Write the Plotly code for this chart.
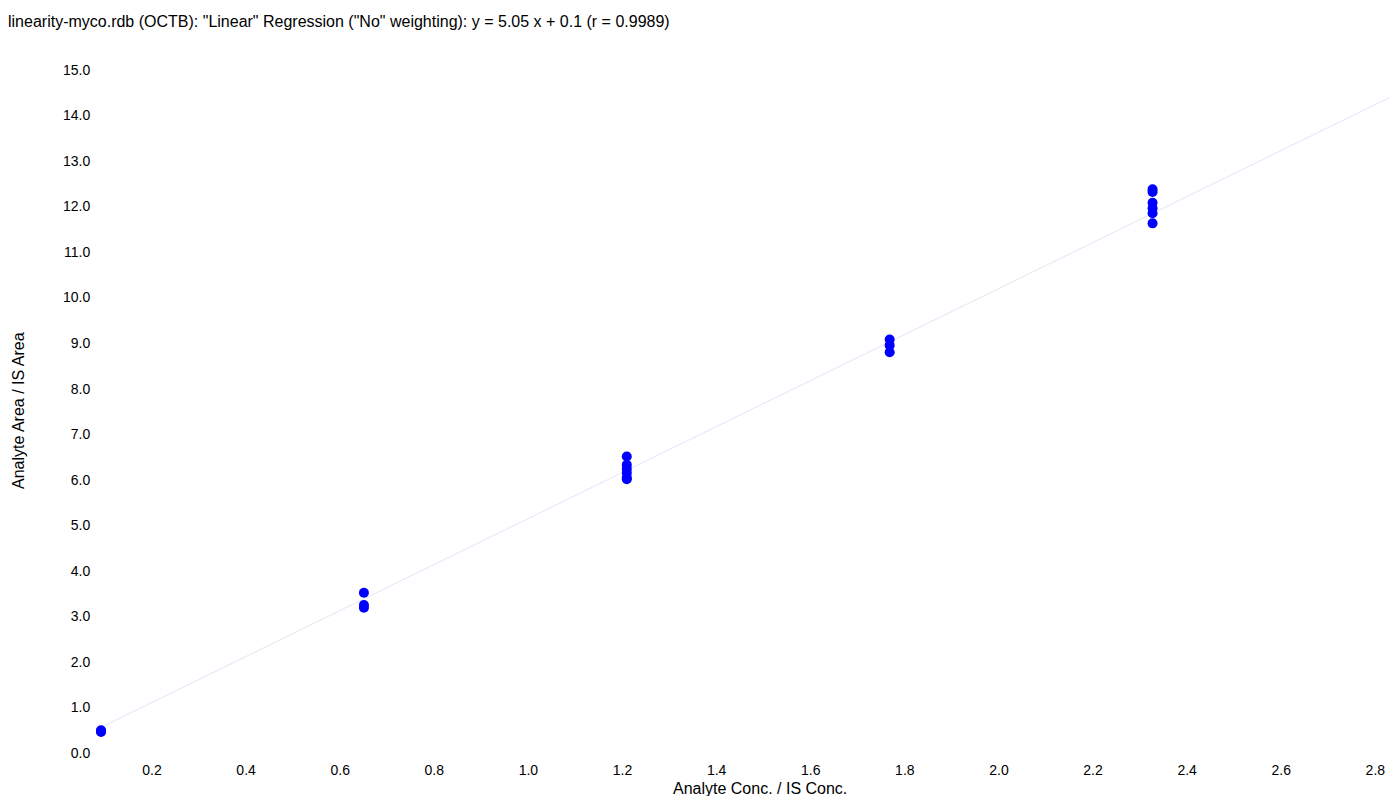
import plotly.graph_objects as go

# Calibration standards: concentration ratio levels and measured area ratios
conc_levels = [0.0917, 0.6504, 1.2091, 1.7678, 2.3265]
area_ratios = [
    [0.46, 0.48, 0.50],
    [3.52, 3.25, 3.19],
    [6.51, 6.33, 6.24, 6.15, 6.05, 6.01],
    [9.08, 8.95, 8.80],
    [12.38, 12.32, 12.08, 11.96, 11.85, 11.63],
]

slope = 5.05
intercept = 0.1
r_value = 0.9989

x_range = [0.081, 2.829]
y_range = [0, 15.48]
x_ticks = [0.2, 0.4, 0.6, 0.8, 1.0, 1.2, 1.4, 1.6, 1.8, 2.0, 2.2, 2.4, 2.6, 2.8]
y_ticks = [float(v) for v in range(0, 16)]

xs, ys = [], []
for c, vals in zip(conc_levels, area_ratios):
    for v in vals:
        xs.append(c)
        ys.append(v)

line_x = [conc_levels[0], x_range[1]]
line_y = [slope * v + intercept for v in line_x]

font_family = "Liberation Sans, Arial, sans-serif"

fig = go.Figure()
fig.add_trace(go.Scatter(
    x=line_x, y=line_y, mode="lines",
    line=dict(color="#e4e4fa", width=1),
    hoverinfo="skip", showlegend=False,
))
fig.add_trace(go.Scatter(
    x=xs, y=ys, mode="markers",
    marker=dict(color="#0000ff", size=10, line=dict(width=0)),
    showlegend=False,
))

fig.update_layout(
    width=1389, height=796,
    margin=dict(l=96, r=0, t=48, b=43),
    paper_bgcolor="white", plot_bgcolor="white",
    font=dict(family=font_family, size=14, color="#000000"),
    xaxis=dict(
        range=x_range, tickvals=x_ticks,
        ticktext=[f"{v:.1f}" for v in x_ticks],
        showgrid=False, zeroline=False, showline=False,
        ticks="outside", ticklen=4, tickcolor="white",
    ),
    yaxis=dict(
        range=y_range, tickvals=y_ticks,
        ticktext=[f"{v:.1f}" for v in y_ticks],
        showgrid=False, zeroline=False, showline=False,
        ticks="outside", ticklen=2, tickcolor="white",
    ),
    annotations=[
        dict(
            text=f'linearity-myco.rdb (OCTB): "Linear" Regression ("No" weighting): '
                 f'y = {slope} x + {intercept} (r = {r_value})',
            xref="paper", yref="paper", x=-90 / 1293, y=1 + 27 / 705,
            xanchor="left", yanchor="middle", showarrow=False,
            font=dict(size=16),
        ),
        dict(
            text="Analyte Conc. / IS Conc.",
            xref="paper", yref="paper", x=(760 - 96) / 1293, y=-35 / 705,
            xanchor="center", yanchor="middle", showarrow=False,
            font=dict(size=16),
        ),
        dict(
            text="Analyte Area / IS Area",
            xref="paper", yref="paper", x=-78 / 1293, y=(753 - 411) / 705,
            xanchor="center", yanchor="middle", showarrow=False,
            textangle=-90, font=dict(size=16),
        ),
    ],
)

fig.write_html("out.html")
